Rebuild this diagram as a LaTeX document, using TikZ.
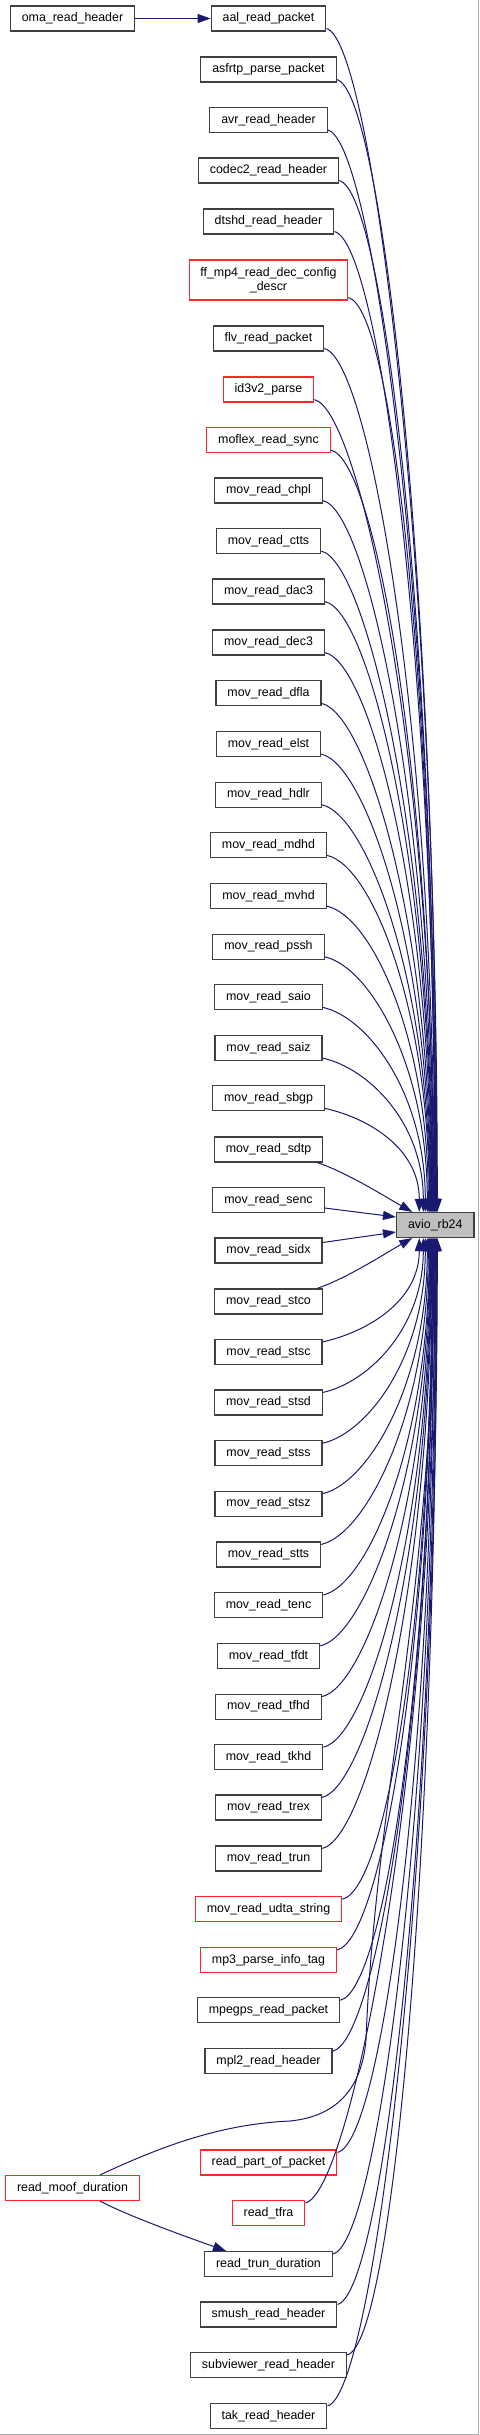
\documentclass[tikz,border=0pt]{standalone}
\usepackage{fontspec}
\setmainfont{Liberation Sans}
\usetikzlibrary{arrows.meta,calc}
\definecolor{edgeblue}{HTML}{191970}
\definecolor{boxgray}{HTML}{404040}
\definecolor{boxred}{HTML}{FF2828}
\definecolor{avgray}{HTML}{BFBFBF}
\definecolor{framegray}{HTML}{A8A8A8}
\tikzset{
  fn/.style={draw=boxgray, line width=1.2pt, fill=white, rectangle, minimum height=25pt,
    inner xsep=11.5pt, inner ysep=0pt, font=\fontsize{12.4}{14.5}\selectfont, text=black},
  fnred/.style={fn, draw=boxred},
  edge/.style={draw=edgeblue, line width=1pt, -{Triangle[length=13pt,width=9pt]}},
}
\begin{document}
\begin{tikzpicture}[x=1pt,y=-1pt]
\useasboundingbox (0,0) rectangle (479,2435);
\fill[white] (0,0) rectangle (479,2435);
\draw[framegray, line width=1pt] (478.5,0) -- (478.5,2434.5) -- (0,2434.5);

% caller nodes
\foreach \k/\t/\yy in {
 aal/aal\_read\_packet/18.5, asfrtp/asfrtp\_parse\_packet/69.5, avr/avr\_read\_header/120,
 codec/codec2\_read\_header/170.5, dtshd/dtshd\_read\_header/221.5,
 flv/flv\_read\_packet/338.5,
 chpl/mov\_read\_chpl/490.5, ctts/mov\_read\_ctts/541, dacthree/mov\_read\_dac3/591.5,
 decthree/mov\_read\_dec3/642.5, dfla/mov\_read\_dfla/693.3, elst/mov\_read\_elst/744,
 hdlr/mov\_read\_hdlr/794.7, mdhd/mov\_read\_mdhd/845.3, mvhd/mov\_read\_mvhd/896,
 pssh/mov\_read\_pssh/946.7, saio/mov\_read\_saio/997.3, saiz/mov\_read\_saiz/1048,
 sbgp/mov\_read\_sbgp/1098.3, sdtp/mov\_read\_sdtp/1149.5, senc/mov\_read\_senc/1200,
 sidx/mov\_read\_sidx/1250.5, stco/mov\_read\_stco/1301.5, stsc/mov\_read\_stsc/1352,
 stsd/mov\_read\_stsd/1402.5, stss/mov\_read\_stss/1453.3, stsz/mov\_read\_stsz/1503.7,
 stts/mov\_read\_stts/1554.5, tenc/mov\_read\_tenc/1605, tfdt/mov\_read\_tfdt/1656,
 tfhd/mov\_read\_tfhd/1706.7, tkhd/mov\_read\_tkhd/1757.3, trex/mov\_read\_trex/1807.5,
 trun/mov\_read\_trun/1858.5, mpegps/mpegps\_read\_packet/2010.3,
 mpltwo/mpl2\_read\_header/2061.3, trundur/read\_trun\_duration/2264,
 smush/smush\_read\_header/2314.5, subv/subviewer\_read\_header/2365,
 tak/tak\_read\_header/2416}
 {\node[fn] (\k) at (268.5,\yy) {\t};}

\foreach \k/\t/\yy in {
 idthree/id3v2\_parse/389.5, moflex/moflex\_read\_sync/440,
 udta/mov\_read\_udta\_string/1909.3, mpthree/mp3\_parse\_info\_tag/1960,
 rpop/read\_part\_of\_packet/2162.5, tfra/read\_tfra/2213}
 {\node[fnred] (\k) at (268.5,\yy) {\t};}

\node[fnred, minimum height=40pt, align=center, inner xsep=11pt] (ffmp) at (268.5,280)
  {ff\_mp4\_read\_dec\_config\\\_descr};

\node[fn] (oma) at (72.5,18.5) {oma\_read\_header};
\node[fnred] (moof) at (72.5,2188) {read\_moof\_duration};
\node[fn, fill=avgray] (avio) at (435.3,1225) {avio\_rb24};

% edges from nodes above
\foreach \k/\yy/\ex in {
 aal/18.5/2, asfrtp/69.5/1.5, avr/120/1, codec/170.5/0.5, dtshd/221.5/0,
 ffmp/280/-0.5, flv/338.5/-1, idthree/389.5/-1.5, moflex/440/-2, chpl/490.5/-2.5,
 ctts/541/-3, dacthree/591.5/-3.5, decthree/642.5/-4, dfla/693.3/-4.5, elst/744/-5,
 hdlr/794.7/-5.5, mdhd/845.3/-6, mvhd/896/-7, pssh/946.7/-8, saio/997.3/-10,
 saiz/1048/-12, sbgp/1098.3/-16}
 {\pgfmathsetmacro\kk{0.55*(1212-\yy)}
  \draw[edge] ([yshift=3pt]\k.south east) .. controls +(45,10) and +(0,-\kk) .. ([xshift=\ex pt]avio.north);}

% edges from nodes below
\foreach \k/\yy/\ex in {
 stsc/1352/-16, stsd/1402.5/-12, stss/1453.3/-10, stsz/1503.7/-8, stts/1554.5/-7,
 tenc/1605/-6, tfdt/1656/-5.5, tfhd/1706.7/-5, tkhd/1757.3/-4.5, trex/1807.5/-4,
 trun/1858.5/-3.5, udta/1909.3/-3, mpthree/1960/-2.5, mpegps/2010.3/-2, mpltwo/2061.3/-1.5,
 rpop/2162.5/-0.5, tfra/2213/0, trundur/2264/0.5, smush/2314.5/1, subv/2365/1.5, tak/2416/2}
 {\pgfmathsetmacro\kk{0.55*(\yy-1238)}
  \draw[edge] ([yshift=-3pt]\k.north east) .. controls +(45,-10) and +(0,\kk) .. ([xshift=\ex pt]avio.south);}

% near edges
\draw[edge] ([xshift=-6pt]sdtp.south east) .. controls +(30,10) and +(-25,-14) .. ([xshift=-23pt]avio.north);
\draw[edge] ([yshift=-8pt]senc.east) -- ([yshift=8pt]avio.west);
\draw[edge] ([yshift=8pt]sidx.east) -- ([yshift=-7pt]avio.west);
\draw[edge] ([xshift=-6pt]stco.north east) .. controls +(30,-10) and +(-25,14) .. ([xshift=-23pt]avio.south);

% read_moof_duration edges
\draw[edge] ([xshift=27.5pt]moof.north) .. controls +(60,-28) and (220,2124) .. (290,2121)
  .. controls (340,2116) and (362,2085) .. (366,2040)
  .. controls (375,1800) and +(0,350) .. ([xshift=-1pt]avio.south);
\draw[edge] ([xshift=27.5pt]moof.south) .. controls +(35,18) and +(-25,-9) .. ([xshift=22pt]trundur.north west);

% oma -> aal
\draw[edge] (oma.east) -- (aal.west);
\end{tikzpicture}
\end{document}
